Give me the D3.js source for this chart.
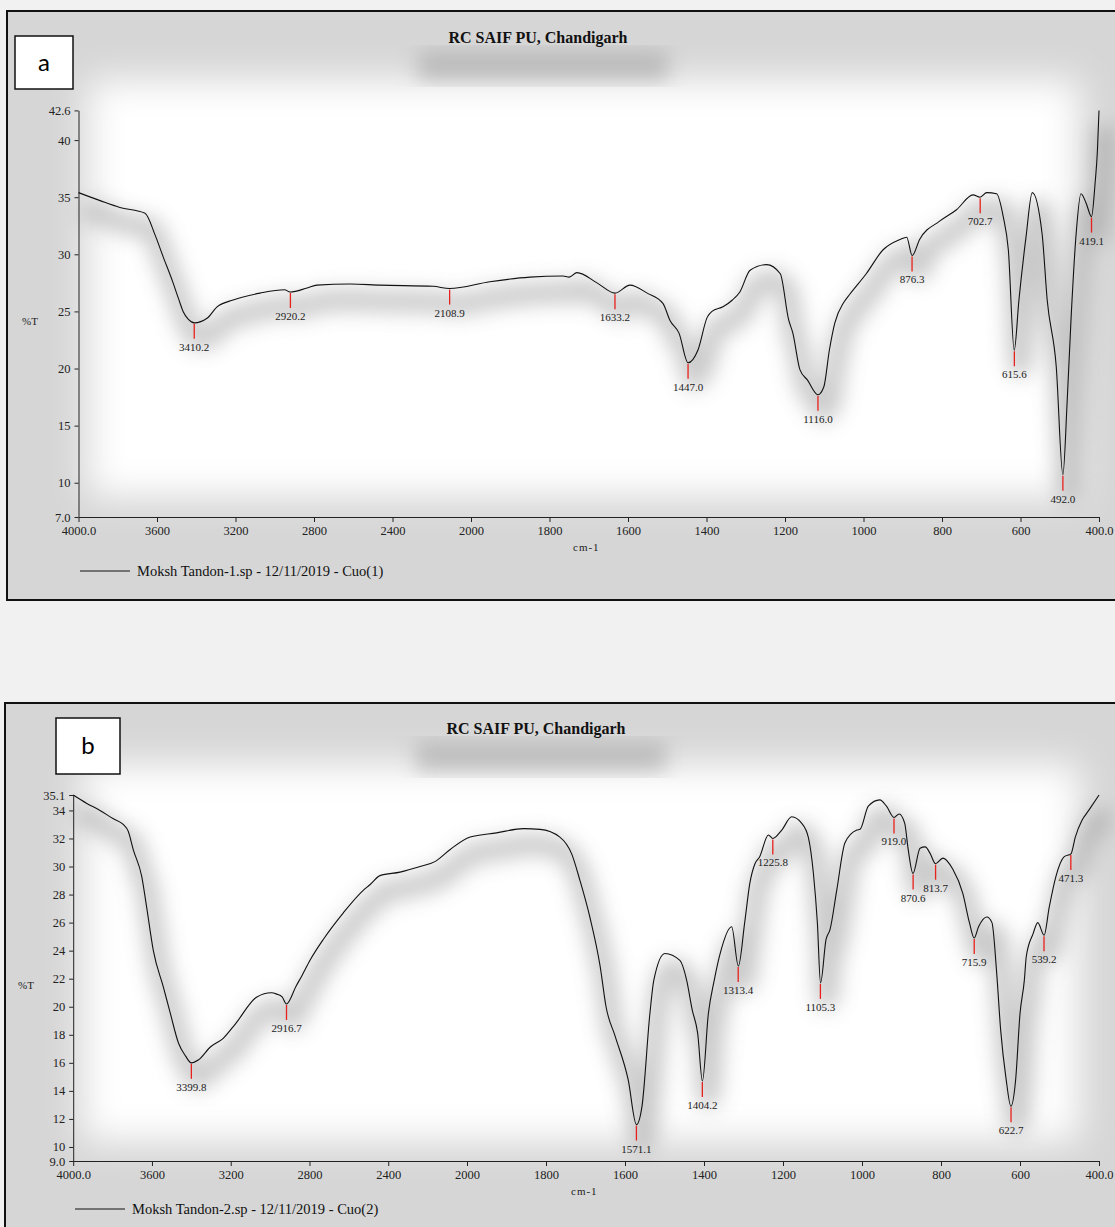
<!DOCTYPE html>
<html>
<head>
<meta charset="UTF-8">
<script src="https://d3js.org/d3.v7.min.js"></script>
<style>
  body { margin:0; background:#f1f1f1; }
  svg { display:block; }
</style>
</head>
<body>
<svg id="canvas"></svg>
<script>
// ---- spectrum a: CuO(1) ----
const wnA = [4000, 3890, 3789, 3661, 3610, 3569, 3518, 3490, 3467, 3440, 3410, 3345, 3294, 3212, 3075, 2950, 2922, 2835, 2785, 2616, 2463, 2193, 2109, 1952, 1850, 1766, 1750, 1730, 1679, 1633, 1595, 1551, 1511, 1493, 1470, 1447, 1422, 1398, 1386, 1358, 1334, 1315, 1289, 1247, 1212, 1191, 1180, 1162, 1143, 1116, 1101, 1087, 1073, 1050, 1035, 993, 950, 907, 890, 876, 857, 806, 763, 721, 703, 686, 661, 644, 631, 616, 604, 586, 570, 545, 532, 509, 492, 481, 471, 458, 446, 433, 419, 410, 404, 400];
const tA  = [35.4, 34.7, 34.1, 33.6, 31.7, 29.8, 27.5, 26.1, 25.0, 24.3, 24.0, 24.4, 25.4, 26.0, 26.6, 26.9, 26.7, 27.05, 27.3, 27.4, 27.3, 27.2, 27.0, 27.6, 28.0, 28.1, 28.0, 28.4, 27.5, 26.6, 27.3, 26.6, 25.7, 24.2, 23.1, 20.5, 21.6, 24.5, 25.0, 25.4, 26.0, 26.7, 28.6, 29.1, 28.3, 24.3, 23.1, 19.9, 19.0, 17.7, 18.4, 21.6, 24.0, 25.8, 26.5, 28.3, 30.4, 31.3, 31.5, 29.9, 31.3, 32.9, 33.9, 35.2, 35.0, 35.4, 35.3, 33.3, 30.4, 21.6, 26.0, 31.5, 35.4, 31.8, 26.0, 20.2, 10.7, 17.2, 24.5, 31.9, 35.3, 34.5, 33.3, 36.2, 39.1, 42.6];
const peaksA  = [3410.2, 2920.2, 2108.9, 1633.2, 1447.0, 1116.0, 876.3, 702.7, 615.6, 492.0, 419.1];
const peakTA  = [24.0, 26.7, 27.0, 26.6, 20.5, 17.7, 29.9, 35.0, 21.6, 10.7, 33.3];
const yTicksA = [7, 10, 15, 20, 25, 30, 35, 40, 42.6];
const yLabelsA = ["7.0", "10", "15", "20", "25", "30", "35", "40", "42.6"];
const legendA = "Moksh Tandon-1.sp - 12/11/2019 - Cuo(1)";

// ---- spectrum b: CuO(2) ----
const wnB = [4000, 3931, 3864, 3796, 3746, 3720, 3695, 3652, 3627, 3593, 3542, 3508, 3465, 3430, 3400, 3365, 3302, 3238, 3175, 3067, 2994, 2966, 2939, 2917, 2867, 2839, 2798, 2730, 2628, 2527, 2493, 2442, 2340, 2238, 2163, 2087, 1992, 1925, 1857, 1815, 1765, 1735, 1714, 1689, 1663, 1648, 1625, 1592, 1571, 1557, 1537, 1527, 1499, 1461, 1444, 1430, 1416, 1404, 1389, 1374, 1359, 1330, 1313, 1297, 1284, 1271, 1259, 1237, 1226, 1203, 1178, 1153, 1136, 1123, 1113, 1105, 1091, 1081, 1064, 1043, 1013, 1005, 984, 955, 938, 919, 906, 892, 883, 871, 853, 840, 827, 814, 795, 770, 745, 728, 716, 705, 684, 671, 659, 649, 635, 623, 611, 600, 589, 584, 567, 555, 539, 526, 509, 488, 471, 460, 443, 426, 400];
const tB  = [35.1, 34.5, 34.0, 33.4, 33.0, 32.5, 31.2, 29.3, 27.1, 24.0, 21.4, 19.6, 17.4, 16.5, 16.0, 16.2, 17.15, 17.75, 18.8, 20.7, 21.0, 20.9, 20.7, 20.2, 21.5, 22.2, 23.3, 24.8, 26.7, 28.3, 28.7, 29.35, 29.6, 30.0, 30.35, 31.2, 32.1, 32.4, 32.7, 32.65, 32.1, 30.9, 29.0, 26.4, 22.9, 20.0, 17.9, 14.8, 11.6, 12.9, 19.5, 21.9, 23.8, 23.3, 21.9, 19.8, 18.1, 14.7, 19.5, 21.9, 23.8, 25.7, 22.9, 26.0, 28.8, 30.2, 30.7, 32.25, 32.0, 32.6, 33.55, 33.1, 32.1, 29.5, 26.0, 21.7, 24.8, 25.5, 28.3, 31.7, 32.6, 32.65, 34.3, 34.75, 34.3, 33.5, 33.75, 33.1, 31.2, 29.5, 31.3, 31.4, 30.9, 30.2, 30.6, 29.8, 28.1, 26.0, 24.9, 25.7, 26.4, 26.0, 22.4, 18.35, 14.8, 12.9, 14.8, 19.5, 21.9, 23.6, 25.2, 26.0, 25.1, 27.1, 29.3, 30.7, 30.9, 32.1, 33.3, 34.0, 35.1];
const peaksB  = [3399.8, 2916.7, 1571.1, 1404.2, 1313.4, 1225.8, 1105.3, 919.0, 870.6, 813.7, 715.9, 622.7, 539.2, 471.3];
const peakTB  = [16.0, 20.2, 11.6, 14.7, 22.9, 32.0, 21.7, 33.5, 29.5, 30.2, 24.9, 12.9, 25.1, 30.9];
const yTicksB = [9, 10, 12, 14, 16, 18, 20, 22, 24, 26, 28, 30, 32, 34, 35.1];
const yLabelsB = ["9.0", "10", "12", "14", "16", "18", "20", "22", "24", "26", "28", "30", "32", "34", "35.1"];
const legendB = "Moksh Tandon-2.sp - 12/11/2019 - Cuo(2)";

// shared x axis
const xTicks = [4000, 3600, 3200, 2800, 2400, 2000, 1800, 1600, 1400, 1200, 1000, 800, 600, 400];
const xLabels = ["4000.0", "3600", "3200", "2800", "2400", "2000", "1800", "1600", "1400", "1200", "1000", "800", "600", "400.0"];
const title = "RC SAIF PU, Chandigarh";

const W = 1115, H = 1227;
const serif = "'Liberation Serif', 'Times New Roman', serif";

const svg = d3.select("#canvas").attr("width", W).attr("height", H);
const defs = svg.append("defs");
defs.append("filter").attr("id", "soft").attr("x", "-20%").attr("y", "-20%").attr("width", "140%").attr("height", "140%")
  .append("feGaussianBlur").attr("stdDeviation", 18);
defs.append("filter").attr("id", "shadow").attr("x", "-10%").attr("y", "-20%").attr("width", "120%").attr("height", "140%")
  .append("feGaussianBlur").attr("stdDeviation", 10);

svg.append("rect").attr("width", W).attr("height", H).attr("fill", "#f1f1f1");

function drawPanel(cfg) {
  const g = svg.append("g");
  const x = d3.scaleLinear().domain([4000, 2000, 400]).range(cfg.xr);
  const y = d3.scaleLinear().domain(cfg.yd).range(cfg.yr);

  // frame + smeared background
  g.append("rect").attr("x", cfg.frame[0]).attr("y", cfg.frame[1])
    .attr("width", cfg.frame[2]).attr("height", cfg.frame[3])
    .attr("fill", "#d6d6d6");
  g.append("rect").attr("x", cfg.xr[0] + 10).attr("y", cfg.yr[1] - 30)
    .attr("width", cfg.xr[2] - cfg.xr[0] - 30).attr("height", cfg.yr[0] - cfg.yr[1] + 10)
    .attr("fill", "#ffffff").attr("filter", "url(#soft)");

  const pts = cfg.wn.map((d, i) => [d, cfg.t[i]]);
  const line = d3.line().x(d => x(d[0])).y(d => y(d[1])).curve(d3.curveMonotoneX);

  // blurred shadow of the trace
  g.append("path").datum(pts).attr("d", line)
    .attr("transform", "translate(6,16)")
    .attr("fill", "none").attr("stroke", "#8c8c8c").attr("stroke-width", 22)
    .attr("opacity", 0.45).attr("filter", "url(#shadow)");
  // blurred shadow of title
  g.append("rect").attr("x", cfg.titleX - 120).attr("y", cfg.titleY + 8)
    .attr("width", 250).attr("height", 30).attr("fill", "#9a9a9a")
    .attr("opacity", 0.5).attr("filter", "url(#shadow)");

  g.append("rect").attr("x", cfg.frame[0]).attr("y", cfg.frame[1])
    .attr("width", cfg.frame[2]).attr("height", cfg.frame[3])
    .attr("fill", "none").attr("stroke", "#111").attr("stroke-width", 2);

  // label box
  g.append("rect").attr("x", cfg.box[0]).attr("y", cfg.box[1]).attr("width", cfg.box[2]).attr("height", cfg.box[3])
    .attr("fill", "#fff").attr("stroke", "#111").attr("stroke-width", 1.5);
  g.append("text").attr("x", cfg.box[0] + cfg.box[2] / 2).attr("y", cfg.box[1] + cfg.box[3] / 2 + 8)
    .attr("text-anchor", "middle").style("font", "24px Lato, 'Open Sans', sans-serif").text(cfg.letter);

  g.append("text").attr("x", cfg.titleX).attr("y", cfg.titleY).attr("text-anchor", "middle")
    .style("font", "bold 16px " + serif).attr("fill", "#111").text(title);

  // axes
  const ya = g.append("g").attr("transform", `translate(${cfg.xr[0]},0)`)
    .call(d3.axisLeft(y).tickValues(cfg.yTicks).tickFormat((d, i) => cfg.yLabels[i]).tickSize(4).tickSizeOuter(0).tickPadding(4));
  const xa = g.append("g").attr("transform", `translate(0,${cfg.yr[0]})`)
    .call(d3.axisBottom(x).tickValues(xTicks).tickFormat((d, i) => xLabels[i]).tickSize(5).tickSizeOuter(0).tickPadding(4));
  [ya, xa].forEach(a => {
    a.selectAll("text").style("font", "12.5px " + serif).attr("fill", "#222");
    a.selectAll("line,path").attr("stroke", "#222");
  });

  g.append("text").attr("x", cfg.tLabel[0]).attr("y", cfg.tLabel[1])
    .style("font", "11px " + serif).attr("fill", "#222").text("%T");
  g.append("text").attr("x", cfg.cmX).attr("y", cfg.yr[0] + 34)
    .style("font", "11px " + serif).attr("fill", "#222").attr("letter-spacing", "1").text("cm-1");

  // trace
  g.append("path").datum(pts).attr("d", line)
    .attr("fill", "none").attr("stroke", "#111").attr("stroke-width", 1.1);

  // peak markers
  const pk = g.selectAll(".pk").data(cfg.peaks).enter().append("g");
  pk.append("line")
    .attr("x1", d => x(d)).attr("x2", d => x(d))
    .attr("y1", (d, i) => y(cfg.peakT[i]) + 1).attr("y2", (d, i) => y(cfg.peakT[i]) + 16)
    .attr("stroke", "#e8201c").attr("stroke-width", 1.3);
  pk.append("text")
    .attr("x", d => x(d)).attr("y", (d, i) => y(cfg.peakT[i]) + 28)
    .attr("text-anchor", "middle").style("font", "11px " + serif).attr("fill", "#222")
    .text(d => d.toFixed(1));

  // legend
  g.append("line").attr("x1", cfg.leg[0]).attr("x2", cfg.leg[0] + 50).attr("y1", cfg.leg[1]).attr("y2", cfg.leg[1])
    .attr("stroke", "#111").attr("stroke-width", 1);
  g.append("text").attr("x", cfg.leg[0] + 57).attr("y", cfg.leg[1] + 5)
    .style("font", "14.5px " + serif).attr("fill", "#111").text(cfg.legend);
}

drawPanel({
  letter: "a", wn: wnA, t: tA, peaks: peaksA, peakT: peakTA,
  yTicks: yTicksA, yLabels: yLabelsA, legend: legendA,
  xr: [78.5, 471, 1099], yd: [7, 42.6], yr: [517, 110.4],
  frame: [7, 11, 1120, 589], box: [15, 36, 58, 53],
  titleX: 538, titleY: 43, tLabel: [22, 325], cmX: 573, leg: [80, 571]
});

drawPanel({
  letter: "b", wn: wnB, t: tB, peaks: peaksB, peakT: peakTB,
  yTicks: yTicksB, yLabels: yLabelsB, legend: legendB,
  xr: [73.2, 467, 1099], yd: [9, 35.1], yr: [1161, 795],
  frame: [5, 703, 1120, 560], box: [56, 718, 64, 56],
  titleX: 536, titleY: 734, tLabel: [18, 989], cmX: 571, leg: [75, 1209]
});
</script>
</body>
</html>
